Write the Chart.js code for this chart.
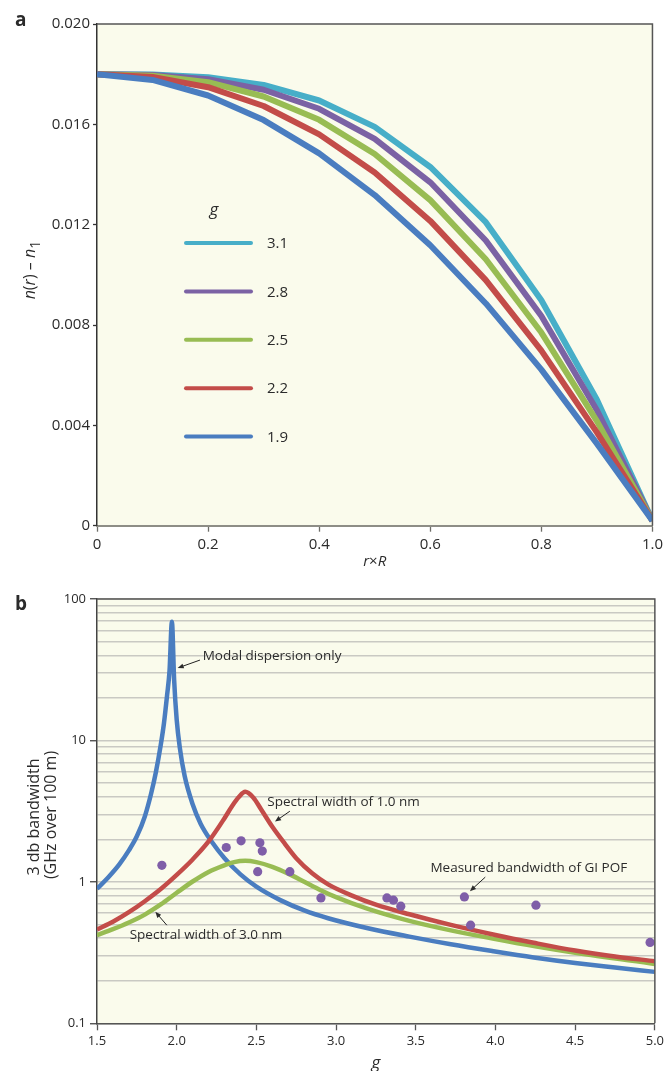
<!DOCTYPE html>
<html>
<head>
<meta charset="utf-8">
<script src="https://cdn.jsdelivr.net/npm/chart.js@4.4.1/dist/chart.umd.min.js"></script>
<style>
  html, body { margin: 0; padding: 0; background: #fff; }
  #wrap { position: relative; width: 667px; height: 1071px; }
  canvas { position: absolute; left: 0; }
  #chartA { top: 0; }
  #chartB { top: 580px; }
</style>
</head>
<body>
<div id="wrap">
  <canvas id="chartA" width="667" height="580"></canvas>
  <canvas id="chartB" width="667" height="491"></canvas>
</div>
<script>
// ---- panel a: index profile n(r) - n1 for each exponent g
const radius = [0, 0.1, 0.2, 0.3, 0.4, 0.5, 0.6, 0.7, 0.8, 0.9, 1.0];
const profileG19 = [0.0180, 0.01777, 0.01715, 0.01617, 0.01484, 0.01318, 0.01118, 0.00886, 0.00622, 0.00327, 0.0002];
const profileG22 = [0.0180, 0.01789, 0.01748, 0.01673, 0.01560, 0.01408, 0.01215, 0.00979, 0.00698, 0.00372, 0.0002];
const profileG25 = [0.0180, 0.01794, 0.01768, 0.01711, 0.01618, 0.01482, 0.01298, 0.01062, 0.00770, 0.00417, 0.0002];
const profileG28 = [0.0180, 0.01797, 0.01780, 0.01738, 0.01662, 0.01542, 0.01369, 0.01137, 0.00836, 0.00460, 0.0002];
const profileG31 = [0.0180, 0.01799, 0.01788, 0.01757, 0.01695, 0.01590, 0.01430, 0.01210, 0.00899, 0.00502, 0.0002];
const profileLabels = ["1.9", "2.2", "2.5", "2.8", "3.1"];
const radiusTicks = [0, 0.2, 0.4, 0.6, 0.8, 1.0];
const radiusTickLabels = ["0", "0.2", "0.4", "0.6", "0.8", "1.0"];
const deltaTicks = [0, 0.004, 0.008, 0.012, 0.016, 0.020];
const deltaTickLabels = ["0", "0.004", "0.008", "0.012", "0.016", "0.020"];

// ---- panel b: 3 dB bandwidth vs g
const modalG = [1.5, 1.57, 1.64, 1.7, 1.75, 1.8, 1.84, 1.87, 1.9, 1.92, 1.94, 1.955, 1.97, 1.984, 2.0, 2.02, 2.05, 2.1, 2.15, 2.22, 2.3, 2.4, 2.5, 2.65, 2.8, 2.95, 3.2, 3.46, 3.72, 3.98, 4.24, 4.5, 4.75, 5.0];
const modalBw = [0.894, 1.075, 1.33, 1.67, 2.1, 2.9, 4.23, 6.0, 9.3, 13.2, 21, 31, 69, 26.7, 14, 8.8, 5.6, 3.54, 2.58, 1.92, 1.47, 1.13, 0.925, 0.743, 0.628, 0.553, 0.47, 0.41, 0.362, 0.324, 0.292, 0.267, 0.248, 0.231];
const nm1G = [1.5, 1.6, 1.7, 1.8, 1.9, 2.0, 2.1, 2.2, 2.3, 2.35, 2.39, 2.43, 2.48, 2.53, 2.6, 2.68, 2.75, 2.85, 2.95, 3.1, 3.25, 3.46, 3.72, 4.0, 4.24, 4.5, 4.75, 5.0];
const nm1Bw = [0.46, 0.522, 0.61, 0.73, 0.89, 1.12, 1.44, 1.93, 2.82, 3.47, 3.98, 4.33, 3.95, 3.25, 2.45, 1.85, 1.47, 1.15, 0.96, 0.80, 0.69, 0.59, 0.496, 0.421, 0.371, 0.327, 0.297, 0.275];
const nm3G = [1.5, 1.6, 1.7, 1.8, 1.9, 2.0, 2.1, 2.2, 2.3, 2.36, 2.43, 2.5, 2.6, 2.7, 2.8, 2.9, 3.0, 3.2, 3.46, 3.72, 4.0, 4.25, 4.5, 5.0];
const nm3Bw = [0.42, 0.463, 0.516, 0.587, 0.692, 0.837, 1.006, 1.176, 1.311, 1.38, 1.41, 1.38, 1.278, 1.143, 1.002, 0.877, 0.78, 0.644, 0.53, 0.454, 0.394, 0.35, 0.315, 0.263];
const measuredG = [1.907, 2.311, 2.404, 2.522, 2.537, 2.508, 2.71, 2.905, 3.319, 3.36, 3.406, 3.805, 3.844, 4.254, 4.97];
const measuredBw = [1.31, 1.75, 1.95, 1.89, 1.65, 1.18, 1.18, 0.77, 0.77, 0.742, 0.673, 0.783, 0.494, 0.684, 0.373];
const gTicks = [1.5, 2.0, 2.5, 3.0, 3.5, 4.0, 4.5, 5.0];
const gTickLabels = ["1.5", "2.0", "2.5", "3.0", "3.5", "4.0", "4.5", "5.0"];
const bwGrid = [0.1, 0.2, 0.3, 0.4, 0.5, 0.6, 0.7, 0.8, 0.9, 1, 2, 3, 4, 5, 6, 7, 8, 9, 10, 20, 30, 40, 50, 60, 70, 80, 90, 100];
const bwMajor = [0.1, 1, 10, 100];
const bwMajorLabels = ["0.1", "1", "10", "100"];

const FONT = "'Open Sans', 'Noto Sans', sans-serif";
const TEXT = "#2b2b2b";
const PAPER = "#fafbec";
const profileColors = ["#4a7dc0", "#c34c49", "#98bc53", "#7b62a4", "#47aec8"];

const pts = (xs, ys) => xs.map((x, i) => ({ x: x, y: ys[i] }));
const isMajor = (v) => bwMajor.some((m) => Math.abs(m - v) / m < 1e-6);

// cream plot background + outer frame
const paperPlugin = {
  id: "paper",
  beforeDraw(chart) {
    const { ctx, chartArea: a } = chart;
    ctx.save();
    ctx.fillStyle = PAPER;
    ctx.fillRect(a.left, a.top, a.right - a.left, a.bottom - a.top);
    ctx.restore();
  },
  afterDraw(chart) {
    const { ctx, chartArea: a } = chart;
    ctx.save();
    ctx.strokeStyle = "#555";
    ctx.lineWidth = 1.5;
    ctx.beginPath();
    ctx.moveTo(a.left, a.top);
    ctx.lineTo(a.right, a.top);
    ctx.lineTo(a.right, a.bottom);
    ctx.stroke();
    ctx.restore();
  },
};

// text made of runs, some italic / subscript; centred on (x, y)
function drawRich(ctx, parts, x, y, angle, size) {
  ctx.save();
  ctx.translate(x, y);
  ctx.rotate(angle);
  ctx.fillStyle = TEXT;
  ctx.textBaseline = "middle";
  ctx.textAlign = "left";
  const fontOf = (p) => (p.italic ? "italic " : "") + (p.sub ? size * 0.9 : size) + "px " + FONT;
  let total = 0;
  parts.forEach((p) => {
    ctx.font = fontOf(p);
    total += ctx.measureText(p.text).width;
  });
  let cx = -total / 2;
  parts.forEach((p) => {
    ctx.font = fontOf(p);
    ctx.fillText(p.text, cx, p.sub ? size * 0.4 : 0);
    cx += ctx.measureText(p.text).width;
  });
  ctx.restore();
}

const panelAText = {
  id: "panelAText",
  afterDraw(chart) {
    const { ctx, chartArea: a } = chart;
    ctx.save();
    ctx.fillStyle = TEXT;
    ctx.font = "bold 19px " + FONT;
    ctx.textBaseline = "alphabetic";
    ctx.fillText("a", 15, 26);
    ctx.restore();
    drawRich(ctx, [
      { text: "n", italic: true }, { text: "(" }, { text: "r", italic: true },
      { text: ") – " }, { text: "n", italic: true }, { text: "1", sub: true },
    ], 30, 270, -Math.PI / 2, 16);
    drawRich(ctx, [{ text: "r", italic: true }, { text: "×" }, { text: "R", italic: true }],
      (a.left + a.right) / 2, 562, 0, 15);

    // legend inside the plot
    const lx = a.left + 89, lw = 65, rowTop = a.top + 219, rowGap = 48.4;
    drawRich(ctx, [{ text: "g", italic: true }], lx + 28, a.top + 186, 0, 17);
    ctx.save();
    ctx.lineCap = "round";
    ctx.lineWidth = 4;
    ctx.font = "15px " + FONT;
    ctx.textBaseline = "middle";
    for (let k = 0; k < profileLabels.length; k++) {
      const idx = profileLabels.length - 1 - k;
      const y = rowTop + k * rowGap;
      ctx.strokeStyle = profileColors[idx];
      ctx.beginPath();
      ctx.moveTo(lx, y);
      ctx.lineTo(lx + lw, y);
      ctx.stroke();
      ctx.fillStyle = TEXT;
      ctx.fillText(profileLabels[idx], lx + 81, y + 1);
    }
    ctx.restore();
  },
};

const profileSets = [profileG19, profileG22, profileG25, profileG28, profileG31].map((vals, i) => ({
  label: profileLabels[i],
  data: pts(radius, vals),
  borderColor: profileColors[i],
  borderWidth: 6,
  pointRadius: 0,
  tension: 0,
  borderJoinStyle: "round",
}));

new Chart(document.getElementById("chartA"), {
  type: "line",
  data: { datasets: profileSets },
  options: {
    responsive: false,
    animation: false,
    layout: { padding: { top: 24, right: 6, left: 0, bottom: 0 } },
    plugins: { legend: { display: false }, tooltip: { enabled: false } },
    scales: {
      x: {
        type: "linear",
        min: 0,
        max: 1,
        afterBuildTicks: (s) => { s.ticks = radiusTicks.map((v) => ({ value: v })); },
        afterFit: (s) => { s.height = 54.3; },
        ticks: {
          autoSkip: false,
          maxRotation: 0,
          padding: 4,
          color: TEXT,
          font: { family: FONT, size: 15 },
          callback: (v, i) => radiusTickLabels[i],
        },
        grid: { drawOnChartArea: false, tickLength: 6, tickColor: "#6d6d68", tickWidth: 1.3 },
        border: { color: "#8d8d86", width: 2 },
      },
      y: {
        type: "linear",
        min: 0,
        max: 0.02,
        afterBuildTicks: (s) => { s.ticks = deltaTicks.map((v) => ({ value: v })); },
        afterFit: (s) => { s.width = 97; },
        ticks: {
          autoSkip: false,
          padding: 3,
          color: TEXT,
          font: { family: FONT, size: 15 },
          callback: (v, i) => deltaTickLabels[i],
        },
        grid: { drawOnChartArea: false, tickLength: 4, tickColor: "#333", tickWidth: 1.3 },
        border: { color: "#333", width: 1.5 },
      },
    },
  },
  plugins: [paperPlugin, panelAText],
});

// ---- panel b notes: text anchor and arrow, in data units
const bwNotes = [
  { text: "Modal dispersion only", tx: 2.163, ty: 39.5, fx: 2.146, fy: 37, ax: 2.006, ay: 32.5 },
  { text: "Spectral width of 1.0 nm", tx: 2.568, ty: 3.68, fx: 2.71, fy: 3.16, ax: 2.617, ay: 2.67 },
  { text: "Spectral width of 3.0 nm", tx: 1.705, ty: 0.42, fx: 1.938, fy: 0.494, ax: 1.866, ay: 0.614 },
  { text: "Measured bandwidth of GI POF", tx: 3.592, ty: 1.25, fx: 3.936, fy: 1.08, ax: 3.84, ay: 0.86 },
];

const panelBText = {
  id: "panelBText",
  afterDatasetsDraw(chart) {
    const { ctx, scales } = chart;
    const X = (v) => scales.x.getPixelForValue(v);
    const Y = (v) => scales.y.getPixelForValue(v);
    ctx.save();
    ctx.fillStyle = TEXT;
    ctx.strokeStyle = "#222";
    ctx.font = "13.5px " + FONT;
    ctx.textBaseline = "middle";
    bwNotes.forEach((n) => {
      ctx.fillText(n.text, X(n.tx), Y(n.ty));
      const x1 = X(n.fx), y1 = Y(n.fy), x2 = X(n.ax), y2 = Y(n.ay);
      const ang = Math.atan2(y2 - y1, x2 - x1);
      ctx.lineWidth = 1;
      ctx.beginPath();
      ctx.moveTo(x1, y1);
      ctx.lineTo(x2 - 4 * Math.cos(ang), y2 - 4 * Math.sin(ang));
      ctx.stroke();
      ctx.beginPath();
      ctx.moveTo(x2, y2);
      ctx.lineTo(x2 - 6 * Math.cos(ang) + 2.5 * Math.sin(ang), y2 - 6 * Math.sin(ang) - 2.5 * Math.cos(ang));
      ctx.lineTo(x2 - 6 * Math.cos(ang) - 2.5 * Math.sin(ang), y2 - 6 * Math.sin(ang) + 2.5 * Math.cos(ang));
      ctx.closePath();
      ctx.fill();
    });
    ctx.restore();
  },
  afterDraw(chart) {
    const { ctx, chartArea: a } = chart;
    ctx.save();
    ctx.fillStyle = TEXT;
    ctx.font = "bold 19px " + FONT;
    ctx.fillText("b", 15, 30);
    ctx.restore();
    drawRich(ctx, [{ text: "3 db bandwidth" }], 34, 237, -Math.PI / 2, 16);
    drawRich(ctx, [{ text: "(GHz over 100 m)" }], 51, 235, -Math.PI / 2, 16);
    drawRich(ctx, [{ text: "g", italic: true }], (a.left + a.right) / 2, 483, 0, 17);
  },
};

new Chart(document.getElementById("chartB"), {
  type: "line",
  data: {
    datasets: [
      {
        type: "scatter",
        label: "Measured bandwidth of GI POF",
        data: pts(measuredG, measuredBw),
        showLine: false,
        pointRadius: 4.6,
        pointBackgroundColor: "#7f5ea8",
        pointBorderWidth: 0,
      },
      {
        label: "Spectral width of 1.0 nm",
        data: pts(nm1G, nm1Bw),
        borderColor: "#c34c49",
        borderWidth: 4.5,
        pointRadius: 0,
        cubicInterpolationMode: "monotone",
      },
      {
        label: "Spectral width of 3.0 nm",
        data: pts(nm3G, nm3Bw),
        borderColor: "#98bc53",
        borderWidth: 4.5,
        pointRadius: 0,
        cubicInterpolationMode: "monotone",
      },
      {
        label: "Modal dispersion only",
        data: pts(modalG, modalBw),
        borderColor: "#4a7dc0",
        borderWidth: 4.5,
        pointRadius: 0,
        borderJoinStyle: "round",
        cubicInterpolationMode: "monotone",
      },
    ],
  },
  options: {
    responsive: false,
    animation: false,
    layout: { padding: { top: 19, right: 6, left: 0, bottom: 0 } },
    plugins: { legend: { display: false }, tooltip: { enabled: false } },
    scales: {
      x: {
        type: "linear",
        min: 1.5,
        max: 5,
        afterBuildTicks: (s) => { s.ticks = gTicks.map((v) => ({ value: v })); },
        afterFit: (s) => { s.height = 47.7; },
        ticks: {
          autoSkip: false,
          maxRotation: 0,
          padding: 3,
          color: TEXT,
          font: { family: FONT, size: 13 },
          callback: (v, i) => gTickLabels[i],
        },
        grid: { drawOnChartArea: false, tickLength: 7, tickColor: "#555", tickWidth: 1.3 },
        border: { color: "#555", width: 1.5 },
      },
      y: {
        type: "logarithmic",
        min: 0.1,
        max: 100,
        afterBuildTicks: (s) => { s.ticks = bwGrid.map((v) => ({ value: v })); },
        afterFit: (s) => { s.width = 97; },
        ticks: {
          autoSkip: false,
          padding: 4,
          color: TEXT,
          font: { family: FONT, size: 13 },
          callback: (v) => {
            const i = bwMajor.findIndex((m) => Math.abs(m - v) / m < 1e-6);
            return i >= 0 ? bwMajorLabels[i] : "";
          },
        },
        grid: {
          color: "#c9c9c3",
          lineWidth: 1.5,
          tickLength: 7,
          tickWidth: 1.3,
          tickColor: (c) => (c.tick && isMajor(c.tick.value) ? "#444" : "rgba(0,0,0,0)"),
        },
        border: { color: "#444", width: 1.5 },
      },
    },
  },
  plugins: [paperPlugin, panelBText],
});
</script>
</body>
</html>
